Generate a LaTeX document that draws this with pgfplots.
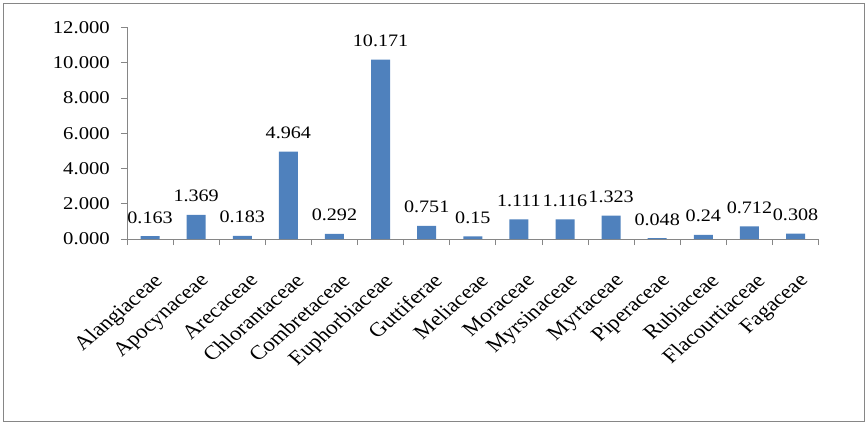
\documentclass[border=0pt]{standalone}
\usepackage{fontspec}
\setmainfont{Liberation Serif}
\usepackage{graphicx}
\usepackage{pgfplots}
\usepackage{pgfplotstable}
\pgfplotsset{compat=1.18}
\definecolor{barblue}{HTML}{4F81BD}
\definecolor{axgray}{HTML}{868686}
\pgfplotstableread{
x val lab
0 0.163 0.163
1 1.369 1.369
2 0.183 0.183
3 4.964 4.964
4 0.292 0.292
5 10.171 10.171
6 0.751 0.751
7 0.15 0.15
8 1.111 1.111
9 1.116 1.116
10 1.323 1.323
11 0.048 0.048
12 0.24 0.24
13 0.712 0.712
14 0.308 0.308
}\datatable
\newcommand{\xl}[1]{\scalebox{1.15}[1]{\rotatebox{45}{\fontsize{20bp}{22bp}\selectfont #1}}}
\newcommand{\yl}[1]{\scalebox{1.15}[1]{\fontsize{18bp}{20bp}\selectfont #1}}
\begin{document}
\begin{tikzpicture}
\useasboundingbox (-127bp,-189bp) rectangle (741bp,239bp);
\draw[axgray, line width=0.9bp] (-123.7bp,-182.7bp) rectangle (737.3bp,235.2bp);
\begin{axis}[
  at={(0,0)}, anchor=south west,
  scale only axis,
  width=691.6bp, height=211.5bp,
  xmin=-0.5, xmax=14.5,
  ymin=0, ymax=12,
  enlargelimits=false,
  axis lines=left,
  axis line style={-, axgray, line width=0.8bp},
  tick align=outside,
  xtick={0,...,14},
  xticklabels={\xl{Alangiaceae},\xl{Apocynaceae},\xl{Arecaceae},\xl{Chlorantaceae},\xl{Combretaceae},\xl{Euphorbiaceae},\xl{Guttiferae},\xl{Meliaceae},\xl{Moraceae},\xl{Myrsinaceae},\xl{Myrtaceae},\xl{Piperaceae},\xl{Rubiaceae},\xl{Flacourtiaceae},\xl{Fagaceae}},
  minor xtick={-0.5,0.5,...,14.5},
  major x tick style={draw=none},
  minor x tick style={axgray, line width=0.8bp},
  minor tick length=6bp,
  ytick={0,2,...,12},
  yticklabels={\yl{0.000},\yl{2.000},\yl{4.000},\yl{6.000},\yl{8.000},\yl{10.000},\yl{12.000}},
  major y tick style={axgray, line width=0.8bp},
  major tick length=6bp,
  yticklabel style={anchor=east, inner sep=0pt, xshift=-11bp},
  xticklabel style={anchor=north east, inner sep=0pt, xshift=17bp, yshift=-27bp},
  point meta=explicit symbolic,
  nodes near coords={\scalebox{1.15}[1]{\fontsize{17.5bp}{20bp}\selectfont\pgfplotspointmeta}},
  every node near coord/.append style={anchor=base, inner sep=0pt, yshift=13bp},
]
\addplot[ybar, bar width=19bp, fill=barblue, draw=none] table[x=x, y=val, meta=lab] {\datatable};
\end{axis}
\end{tikzpicture}
\end{document}
